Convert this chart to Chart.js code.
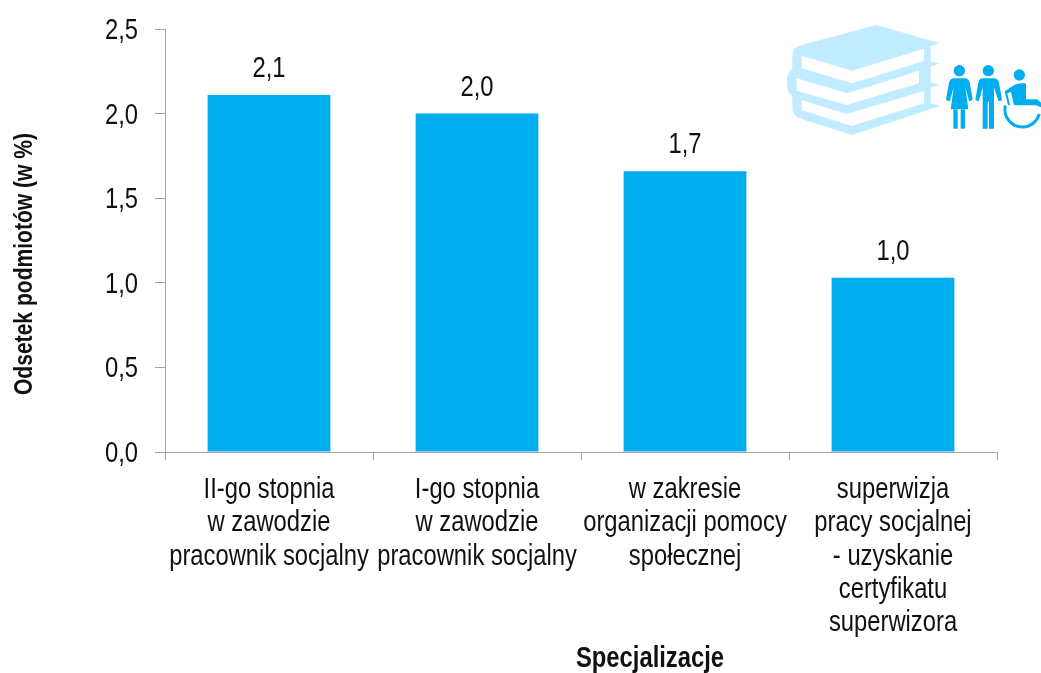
<!DOCTYPE html>
<html>
<head>
<meta charset="utf-8">
<title>Specjalizacje</title>
<script src="https://cdn.jsdelivr.net/npm/chart.js@4/dist/chart.umd.min.js"></script>
<style>
  html, body { margin: 0; background: #fff; overflow: hidden; }
  #wrap { position: relative; width: 1041px; height: 673px; }
  #icon { position: absolute; left: 780px; top: 0; }
</style>
</head>
<body>
<div id="wrap">
  <canvas id="chart" width="1041" height="673"></canvas>
  <svg id="icon" width="261" height="150" viewBox="0 0 783 450">
    <path fill="#c1ecff" d="M290 75L480 130L452 138V185L480 190L452 200V245L480 255L452 262V310L480 318L215 405L65 357Q37 350 37 325V290Q20 275 20 245Q20 218 37 205V170Q37 140 65 135Z"/>
    <path fill="#fff" d="M65 167L215 212L432 146V183L217 250L65 205Z"/>
    <path fill="#fff" d="M50 235L202 280L417 212V250L200 315L50 272Z"/>
    <path fill="#fff" d="M65 300L200 342L432 273V310L215 378L65 330Z"/>
    <g fill="#00aeef">
      <circle cx="538" cy="212" r="17"/>
      <path d="M520 235H556Q566 236 569 248L578 298Q575 306 567 302L556 262L565 328H512L521 262L510 302Q502 306 498 298L507 248Q510 236 520 235Z"/>
      <rect x="520" y="328" width="13" height="58"/>
      <rect x="542" y="328" width="13" height="58"/>
      <circle cx="625" cy="212" r="17"/>
      <path d="M606 235H644Q654 236 657 248L666 298Q663 306 655 302L642 262V386H627V306H623V386H608V262L597 302Q590 306 586 298L595 248Q598 236 606 235Z"/>
      <circle cx="718" cy="225" r="17"/>
      <path d="M674 274L704 254Q715 248 738 250V298H772L783 308V322L768 316H708Q702 316 700 308L693 276L682 280L690 316H684Z"/>
      <path fill="none" stroke="#00aeef" stroke-width="9" d="M676 316C668 350 695 382 728 381C752 380 770 365 778 342"/>
    </g>
  </svg>
</div>
<script>
const categories = [
  ["II-go stopnia", "w zawodzie", "pracownik socjalny"],
  ["I-go stopnia", "w zawodzie", "pracownik socjalny"],
  ["w zakresie", "organizacji pomocy", "społecznej"],
  ["superwizja", "pracy socjalnej", "- uzyskanie", "certyfikatu", "superwizora"]
]
const values = [2.11, 2.0, 1.66, 1.03]
const xTitle = "Specjalizacje"
const yTitle = "Odsetek podmiotów (w %)"

const axisColor = "#a6a6a6"
const textColor = "#111"
const narrow = 0.82  // no Arial Narrow here, so squeeze Liberation Sans by hand
const commaNum = (v, digits) => v.toFixed(digits).replace(".", ",")

function narrowText(ctx, text, x, y, font, align) {
  ctx.save()
  ctx.font = font
  ctx.textAlign = align || "center"
  ctx.textBaseline = "alphabetic"
  ctx.translate(x, y)
  ctx.scale(narrow, 1)
  ctx.fillText(text, 0, 0)
  ctx.restore()
}

const plainFont = "29px 'Liberation Sans', Arial, sans-serif"
const boldFont = "bold 29px 'Liberation Sans', Arial, sans-serif"
const yTitleFont = "bold 25.7px 'Liberation Sans', Arial, sans-serif"

// all text goes through here because it has to be condensed
const textPlugin = {
  id: "textPlugin",
  afterDraw(chart) {
    const ctx = chart.ctx
    const xScale = chart.scales.x
    const yScale = chart.scales.y
    ctx.fillStyle = textColor

    yScale.ticks.forEach((tick, i) => {
      narrowText(ctx, commaNum(tick.value, 1), 138, yScale.getPixelForTick(i) + 10, plainFont, "right")
    })
    xScale.ticks.forEach((tick, i) => {
      categories[i].forEach((line, n) => {
        narrowText(ctx, line, xScale.getPixelForTick(i), 498 + n * 33.25, plainFont)
      })
    })
    chart.getDatasetMeta(0).data.forEach((bar, i) => {
      narrowText(ctx, commaNum(values[i], 1), bar.x, bar.y - 18, plainFont)
    })

    narrowText(ctx, xTitle, 650, 667, boldFont)
    ctx.save()
    ctx.translate(32, 264)
    ctx.rotate(-Math.PI / 2)
    narrowText(ctx, yTitle, 0, 0, yTitleFont)
    ctx.restore()
  }
}

new Chart(document.getElementById("chart"), {
  type: "bar",
  data: {
    labels: categories,
    datasets: [{
      data: values,
      backgroundColor: "#00aeef",
      barPercentage: 1,
      categoryPercentage: 0.59
    }]
  },
  options: {
    responsive: false,
    animation: false,
    layout: { padding: { top: 29, right: 44, left: 0, bottom: 0 } },
    plugins: { legend: { display: false }, tooltip: { enabled: false } },
    scales: {
      x: {
        afterFit(scale) { scale.height = 221 },
        border: { color: axisColor, width: 1 },
        grid: { offset: true, drawOnChartArea: false, color: axisColor, tickLength: 8 },
        ticks: { display: false, autoSkip: false, maxRotation: 0 }
      },
      y: {
        min: 0,
        max: 2.5,
        afterFit(scale) { scale.width = 165 },
        border: { color: axisColor, width: 1 },
        grid: { drawOnChartArea: false, color: axisColor, tickLength: 10 },
        ticks: { display: false, stepSize: 0.5 }
      }
    }
  },
  plugins: [textPlugin]
})
</script>
</body>
</html>
